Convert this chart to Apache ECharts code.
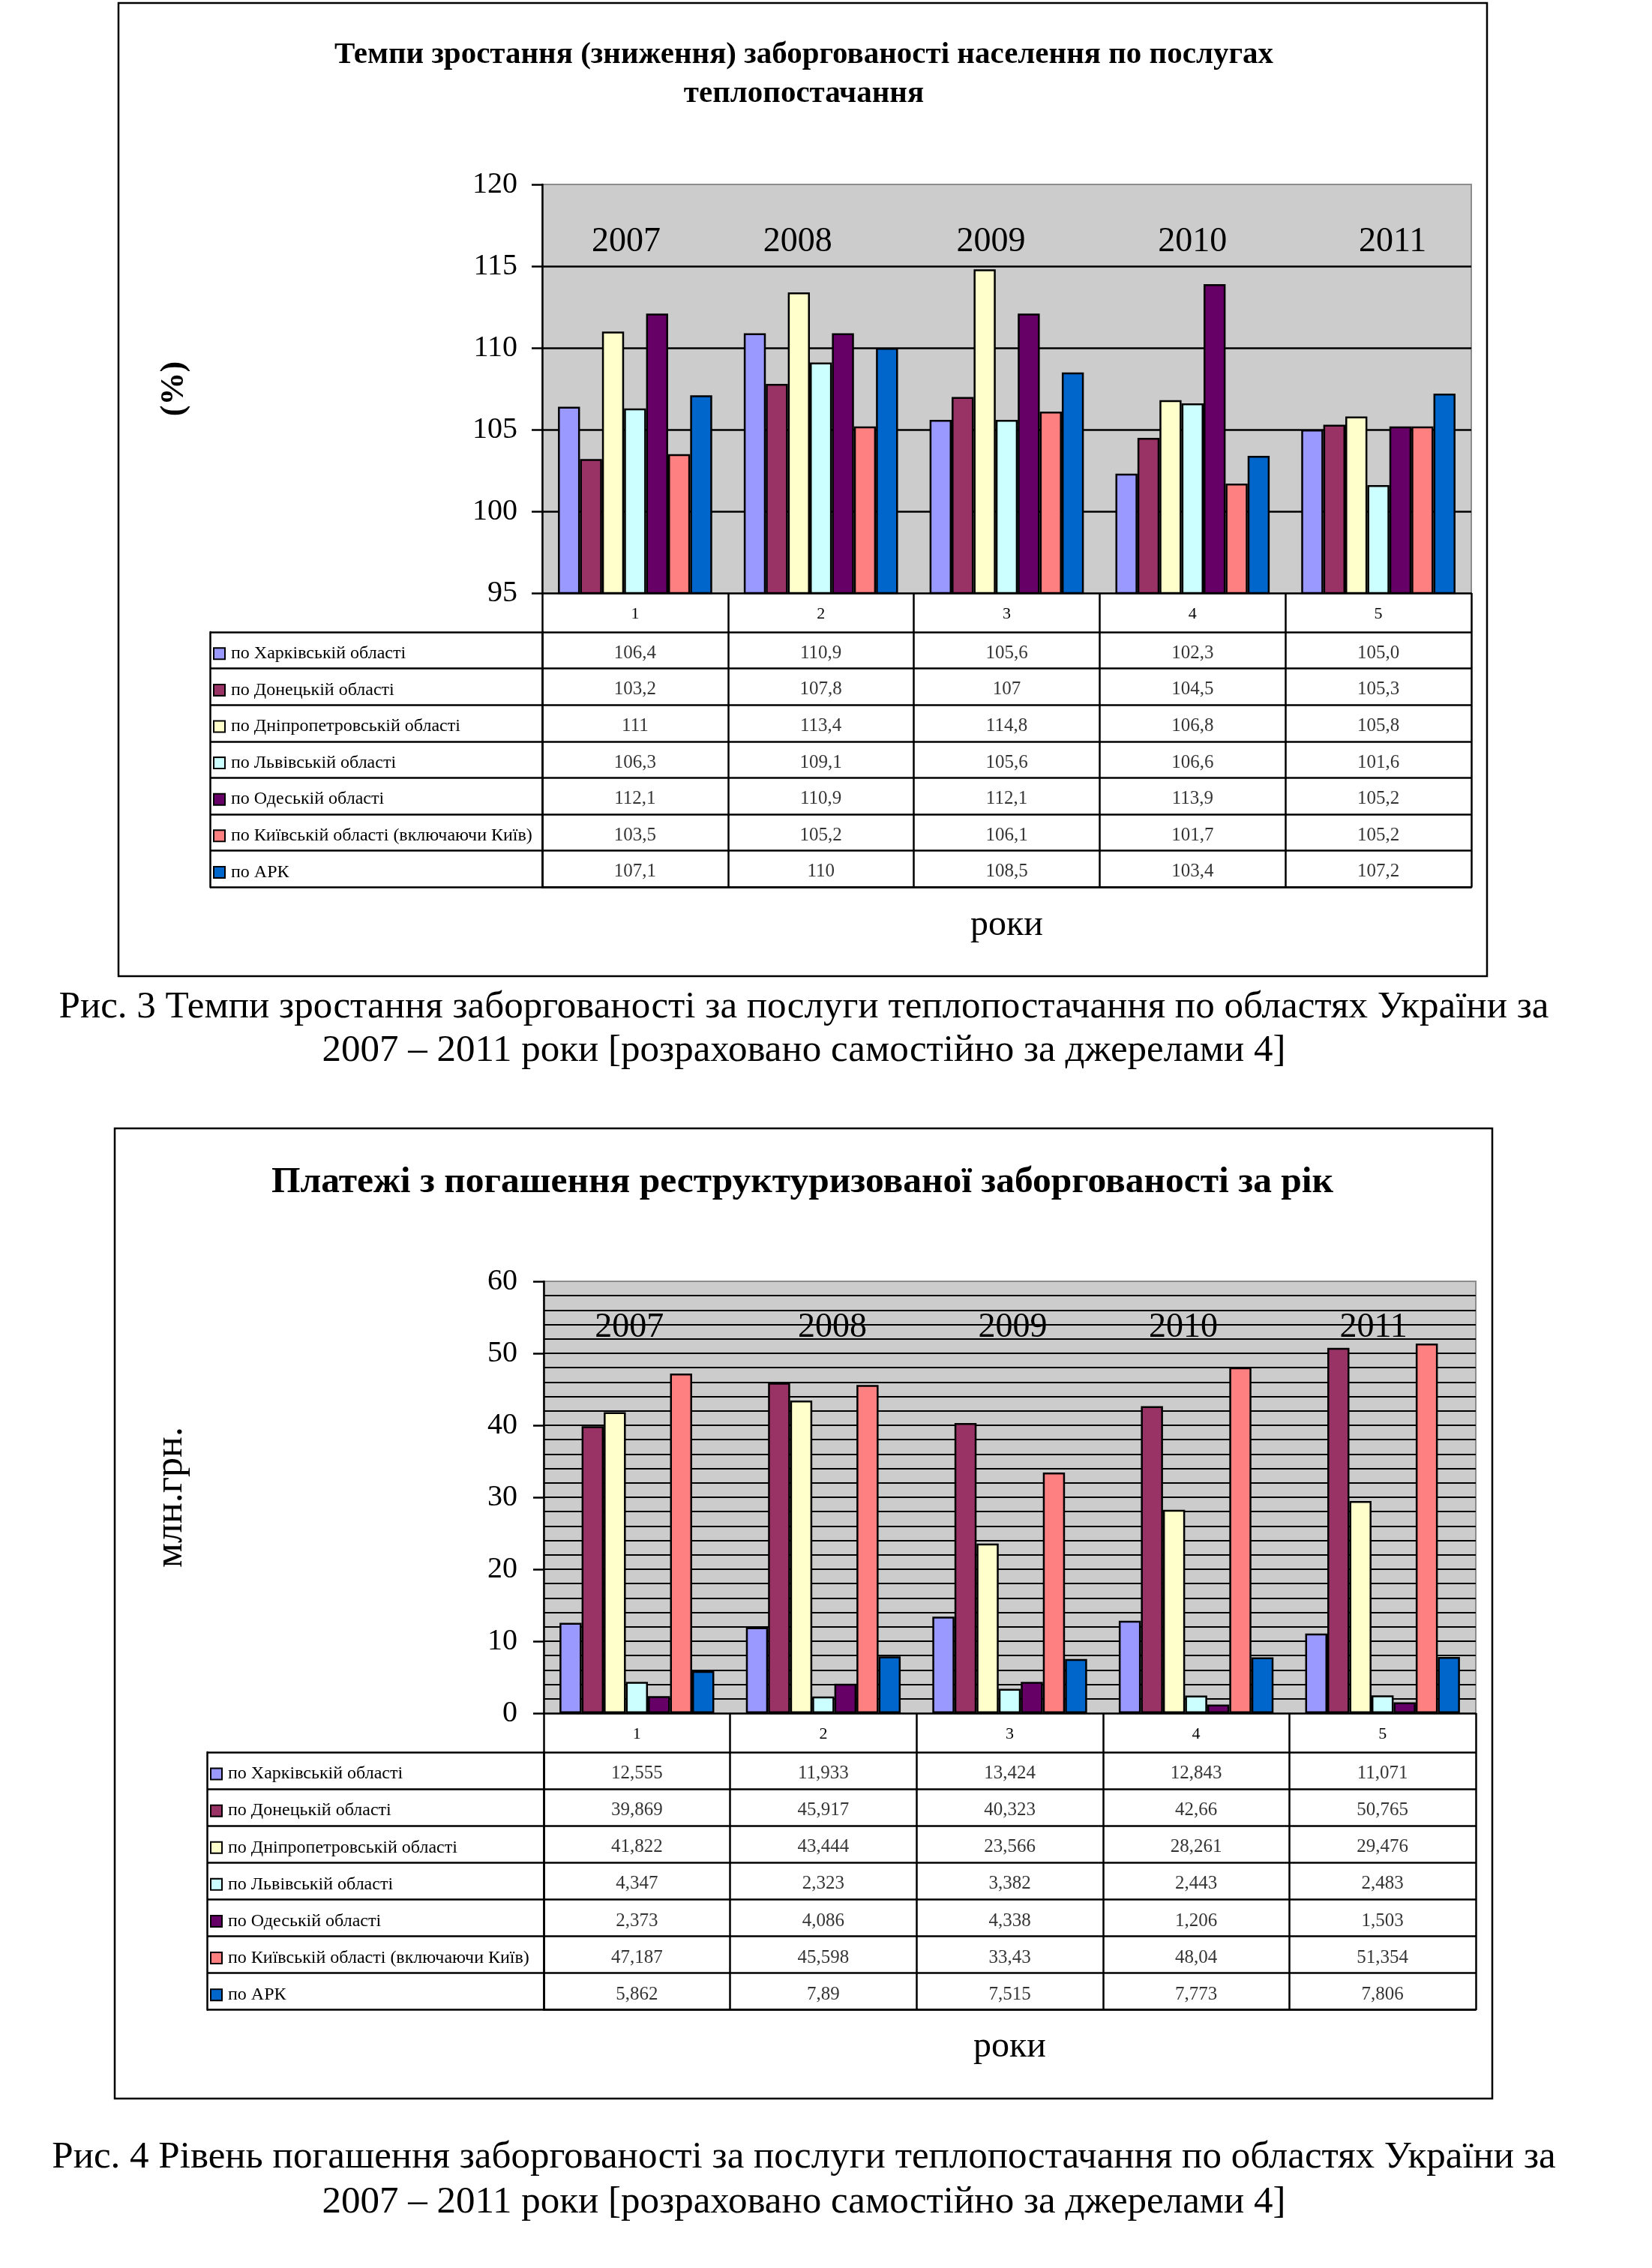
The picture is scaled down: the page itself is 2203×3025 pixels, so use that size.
<!DOCTYPE html>
<html>
<head>
<meta charset="utf-8">
<script src="https://cdn.jsdelivr.net/npm/echarts@6.0.0/dist/echarts.min.js"></script>
<style>
  html, body { margin: 0; padding: 0; background: #fff; }
  #chart { width: 2203px; height: 3025px; }
</style>
</head>
<body>
<div id="chart"></div>
<script>
const FONT = '"Liberation Serif", "Times New Roman", serif'

const columns = ['1', '2', '3', '4', '5']
const years = ['2007', '2008', '2009', '2010', '2011']
const regions = [
  'по Харківській області',
  'по Донецькій області',
  'по Дніпропетровській області',
  'по Львівській області',
  'по Одеській області',
  'по Київській області (включаючи Київ)',
  'по АРК'
]
const colors = ['#9999FF', '#993366', '#FFFFCC', '#CCFFFF', '#660066', '#FF8080', '#0066CC']

// Рис. 3 - темпи зростання, %
const growthKharkiv = ['106,4', '110,9', '105,6', '102,3', '105,0']
const growthDonetsk = ['103,2', '107,8', '107', '104,5', '105,3']
const growthDnipro = ['111', '113,4', '114,8', '106,8', '105,8']
const growthLviv = ['106,3', '109,1', '105,6', '106,6', '101,6']
const growthOdesa = ['112,1', '110,9', '112,1', '113,9', '105,2']
const growthKyiv = ['103,5', '105,2', '106,1', '101,7', '105,2']
const growthArk = ['107,1', '110', '108,5', '103,4', '107,2']
const growthTicks = [95, 100, 105, 110, 115, 120]

// Рис. 4 - платежі, млн. грн
const payKharkiv = ['12,555', '11,933', '13,424', '12,843', '11,071']
const payDonetsk = ['39,869', '45,917', '40,323', '42,66', '50,765']
const payDnipro = ['41,822', '43,444', '23,566', '28,261', '29,476']
const payLviv = ['4,347', '2,323', '3,382', '2,443', '2,483']
const payOdesa = ['2,373', '4,086', '4,338', '1,206', '1,503']
const payKyiv = ['47,187', '45,598', '33,43', '48,04', '51,354']
const payArk = ['5,862', '7,89', '7,515', '7,773', '7,806']
const payTicks = [0, 10, 20, 30, 40, 50, 60]

const num = s => parseFloat(s.replace(',', '.'))
const black = { color: '#000', width: 2.5 }

const option = {
  animation: false,
  backgroundColor: '#fff',
  title: [],
  graphic: [],
  grid: [],
  xAxis: [],
  yAxis: [],
  series: []
}

// horizontal nudge of a centred label: pad one side
function shiftPad(d) {
  return d > 0 ? [0, 0, 0, 2 * d] : [0, -2 * d, 0, 0]
}

function addChart(c) {
  const g = option.grid.length
  const xa = option.xAxis.length
  const ya = option.yAxis.length
  const tableH = c.rowH * regions.length
  const labelCol = c.left - c.tableLeft

  option.grid.push({
    left: c.left, top: c.plotTop, width: c.width, height: c.plotBottom - c.plotTop,
    show: true, backgroundColor: '#CCCCCC', borderColor: '#8C8C8C', borderWidth: 2
  })
  option.grid.push({ left: c.left, top: c.tableTop, width: c.width, height: tableH })

  // header row + vertical table lines
  option.xAxis.push({
    gridIndex: g, type: 'category', data: columns, position: 'bottom',
    axisLine: { lineStyle: black },
    axisTick: { show: true, interval: 0, length: c.tableTop + tableH - c.plotBottom, lineStyle: black },
    axisLabel: {
      interval: 0, margin: (c.tableTop - c.plotBottom) / 2 + 2, verticalAlign: 'middle',
      fontFamily: FONT, fontSize: 22, color: '#000'
    }
  })
  // years inside the plot
  option.xAxis.push({
    gridIndex: g, type: 'category', position: 'top',
    data: years.map((y, i) => ({
      value: y,
      textStyle: { padding: shiftPad(c.yearShift[i]), verticalAlign: 'middle', fontFamily: FONT, fontSize: 46, color: '#000' }
    })),
    axisLine: { show: false }, axisTick: { show: false },
    axisLabel: {
      interval: 0, inside: true, margin: c.yearMargin, verticalAlign: 'middle',
      fontFamily: FONT, fontSize: 46, color: '#000'
    }
  })
  // table body
  option.xAxis.push({
    gridIndex: g + 1, type: 'category', data: columns, position: 'bottom',
    axisLine: { lineStyle: black }, axisTick: { show: false }, axisLabel: { show: false },
    name: 'роки', nameLocation: 'middle', nameGap: c.xNameGap,
    nameTextStyle: { fontFamily: FONT, fontSize: 48, color: '#000' }
  })

  const step = c.ticks[1] - c.ticks[0]
  option.yAxis.push({
    gridIndex: g, type: 'value', position: 'left',
    min: c.ticks[0], max: c.ticks[c.ticks.length - 1], interval: step,
    axisLine: { show: true, lineStyle: black },
    axisTick: { show: true, length: 14, lineStyle: black },
    axisLabel: { margin: c.yLabelMargin, fontFamily: FONT, fontSize: 40, color: '#000' },
    splitLine: { show: true, showMinLine: false, showMaxLine: false, lineStyle: { color: '#000', width: c.gridW } },
    minorTick: { show: false, splitNumber: c.minorSplit },
    minorSplitLine: { show: c.minorSplit > 1, lineStyle: { color: '#000', width: c.gridW } },
    name: c.yName, nameLocation: 'middle', nameRotate: 90, nameGap: c.yNameGap,
    nameTextStyle: { fontFamily: FONT, fontSize: c.yNameSize, fontWeight: c.yNameWeight, color: '#000' }
  })

  const rich = {
    t: { fontFamily: FONT, fontSize: 24, color: '#000', padding: [0, 0, 0, 9] }
  }
  colors.forEach((col, i) => {
    rich['m' + i] = { width: 13, height: 13, backgroundColor: col, borderColor: '#000', borderWidth: 2 }
  })
  option.yAxis.push({
    gridIndex: g + 1, type: 'category', data: regions, inverse: true, position: 'left',
    axisLine: { show: true, lineStyle: black },
    axisTick: { show: true, interval: 0, length: labelCol, lineStyle: black },
    splitLine: { show: true, interval: 0, lineStyle: black },
    axisLabel: {
      interval: 0, align: 'left', margin: labelCol - 6, padding: [9, 0, 0, 0],
      formatter: (v, i) => `{m${i}|}{t|${v}}`, rich
    }
  })
  option.yAxis.push({
    gridIndex: g + 1, type: 'category', data: regions, inverse: true, position: 'left', offset: labelCol,
    axisLine: { show: true, lineStyle: black }, axisTick: { show: false }, axisLabel: { show: false },
    splitLine: { show: false }
  })

  c.values.forEach((vals, i) => {
    option.series.push({
      type: 'bar', name: regions[i], xAxisIndex: xa, yAxisIndex: ya,
      barGap: '0%', barCategoryGap: '17%', silent: true,
      itemStyle: { color: colors[i], borderColor: '#000', borderWidth: 2.5 },
      data: vals.map(num)
    })
  })

  const texts = []
  const cells = []
  c.values.forEach((vals, r) => vals.forEach((s, col) => { texts.push(s); cells.push([col, r]) }))
  option.series.push({
    type: 'scatter', name: 'table', xAxisIndex: xa + 2, yAxisIndex: ya + 1,
    symbolSize: 1, silent: true, itemStyle: { color: 'rgba(0,0,0,0)' },
    label: {
      show: true, position: 'inside', offset: [0, 4], formatter: p => texts[p.dataIndex],
      fontFamily: FONT, fontSize: 25, color: '#000'
    },
    data: cells
  })

  option.title.push({
    text: c.title, left: c.titleX, top: c.titleTop, textAlign: 'center', padding: 0,
    textStyle: { fontFamily: FONT, fontSize: c.titleSize, fontWeight: 'bold', color: '#000', lineHeight: c.titleLine }
  })

  option.graphic.push({
    type: 'rect', silent: true,
    shape: { x: c.box[0], y: c.box[1], width: c.box[2] - c.box[0], height: c.box[3] - c.box[1] },
    style: { fill: 'none', stroke: '#000', lineWidth: 2.5 }
  })
  c.caption.forEach((line, i) => {
    option.graphic.push({
      type: 'text', silent: true, x: c.captionX, y: c.captionY[i],
      style: {
        text: line, fontFamily: FONT, fontSize: 51, fill: '#000',
        align: 'center', verticalAlign: 'middle', textAlign: 'center', textVerticalAlign: 'middle'
      }
    })
  })
}

addChart({
  left: 723, width: 1239, plotTop: 246, plotBottom: 791, tableTop: 843, rowH: 48.6, tableLeft: 280,
  ticks: growthTicks, minorSplit: 1, gridW: 2.5, yLabelMargin: 33, yearMargin: 77, xNameGap: 27,
  yearShift: [-12, -31, -21, 0, 19],
  yName: '(%)', yNameGap: 468, yNameSize: 44, yNameWeight: 'bold',
  values: [growthKharkiv, growthDonetsk, growthDnipro, growthLviv, growthOdesa, growthKyiv, growthArk],
  title: 'Темпи зростання (зниження) заборгованості населення по послугах\nтеплопостачання',
  titleX: 1072, titleTop: 47, titleSize: 41, titleLine: 52,
  box: [158, 4, 1983, 1302],
  caption: [
    'Рис. 3 Темпи зростання заборгованості за послуги теплопостачання по областях України за',
    '2007 – 2011 роки [розраховано самостійно за джерелами 4]'
  ],
  captionX: 1072, captionY: [1344, 1402]
})

addChart({
  left: 725, width: 1243, plotTop: 1709, plotBottom: 2285, tableTop: 2337, rowH: 49.1, tableLeft: 276,
  ticks: payTicks, minorSplit: 5, gridW: 2, yLabelMargin: 35, yearMargin: 62, xNameGap: 26,
  yearShift: [-10, 12, 4, -17, -12],
  yName: 'млн.грн.', yNameGap: 471, yNameSize: 52, yNameWeight: 'normal',
  values: [payKharkiv, payDonetsk, payDnipro, payLviv, payOdesa, payKyiv, payArk],
  title: 'Платежі з погашення реструктуризованої заборгованості за рік',
  titleX: 1070, titleTop: 1552, titleSize: 49.5, titleLine: 50,
  box: [153, 1505, 1990, 2799],
  caption: [
    'Рис. 4 Рівень погашення заборгованості за послуги теплопостачання по областях України за',
    '2007 – 2011 роки [розраховано самостійно за джерелами 4]'
  ],
  captionX: 1072, captionY: [2878, 2938]
})

const chart = echarts.init(document.getElementById('chart'), null, { renderer: 'canvas' })
chart.setOption(option)
window.addEventListener('resize', () => chart.resize())
</script>
</body>
</html>
